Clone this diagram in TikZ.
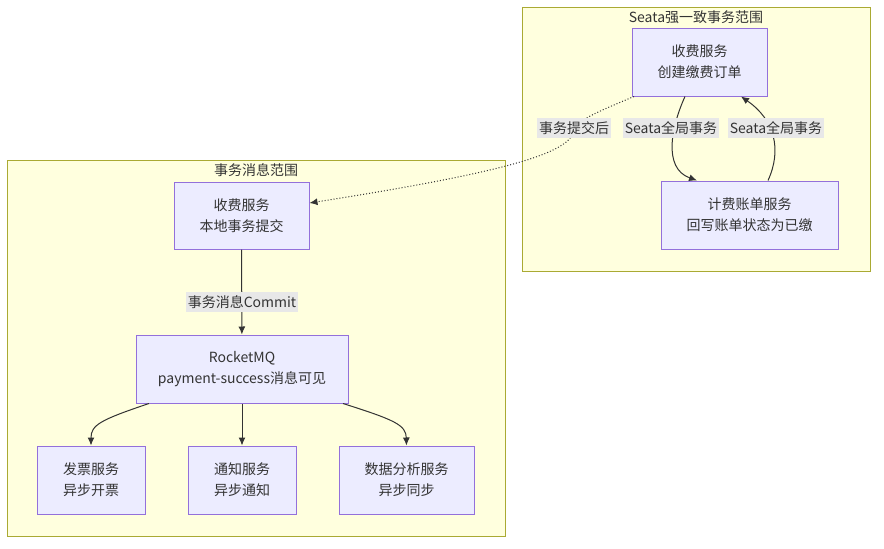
\documentclass[tikz,border=0pt]{standalone}
\usepackage{fontspec}
\setmainfont{Noto Sans CJK SC}
\usetikzlibrary{arrows.meta}

\definecolor{svcfill}{HTML}{ECECFF}
\definecolor{svcline}{HTML}{9370DB}
\definecolor{grpfill}{HTML}{FFFFDE}
\definecolor{grpline}{HTML}{AAAA33}
\definecolor{lblfill}{HTML}{E8E8E8}
\definecolor{ink}{HTML}{333333}

\tikzset{
    svc/.style={draw=svcline, fill=svcfill, line width=1pt, align=center,
                text=ink, font=\fontsize{14}{21}\selectfont, inner sep=0pt},
    grp/.style={draw=grpline, fill=grpfill, line width=1pt, inner sep=0pt},
    grptitle/.style={text=ink, font=\fontsize{14}{16}\selectfont, inner sep=1pt},
    lbl/.style={fill=lblfill, text=ink, font=\fontsize{14}{16}\selectfont,
                inner sep=2pt, minimum height=20pt},
    flow/.style={draw=ink, line width=1pt, -{Latex[length=8pt,width=7pt]}},
}

\begin{document}
\begin{tikzpicture}[x=1pt, y=-1pt]
    \useasboundingbox (0,0) rectangle (884,549);
    % 两个范围框
    \node (seata) [grp, minimum width=348, minimum height=264] at (696,139) {};
    \node (seataT) [grptitle] at (696,17) {Seata强一致事务范围};
    \node (msg) [grp, minimum width=498, minimum height=376] at (256,348) {};
    \node (msgT) [grptitle] at (256,170) {事务消息范围};

    % 服务节点
    \node (order) [svc, minimum width=135, minimum height=68] at (699.5,62)
        {收费服务\\创建缴费订单};
    \node (bill) [svc, minimum width=177, minimum height=68] at (749.5,215)
        {计费账单服务\\回写账单状态为已缴};
    \node (local) [svc, minimum width=135, minimum height=67] at (241.5,215.5)
        {收费服务\\本地事务提交};
    \node (mq) [svc, minimum width=212, minimum height=68] at (242,369)
        {RocketMQ\\payment-success消息可见};
    \node (invoice) [svc, minimum width=108, minimum height=68] at (91,480)
        {发票服务\\异步开票};
    \node (notify) [svc, minimum width=108, minimum height=68] at (242,480)
        {通知服务\\异步通知};
    \node (stats) [svc, minimum width=135, minimum height=68] at (406.5,480)
        {数据分析服务\\异步同步};

    % 连线
    \draw [flow] (order.south -| 685,0) .. controls (672,125) and (662,168) .. (bill.north -| 697,0);
    \draw [flow] (bill.north -| 768,0) .. controls (782,150) and (775,120) .. (order.south -| 741,0);
    \draw [flow, dotted] (order.south -| 634,0) .. controls (590,115) and (578,120) .. (574,132)
        .. controls (566,152) and (520,170) .. (local.east |- 0,203);
    \draw [flow] (local) -- (mq);
    \draw [flow] (mq.south -| 149,0) .. controls (100,420) and (91,425) .. (invoice.north);
    \draw [flow] (mq) -- (notify);
    \draw [flow] (mq.south -| 343,0) .. controls (395,420) and (406,425) .. (stats.north);

    % 连线标签
    \node (l1) [lbl] at (671,128) {Seata全局事务};
    \node (l2) [lbl] at (776,128) {Seata全局事务};
    \node (l3) [lbl] at (574,128) {事务提交后};
    \node (l4) [lbl] at (242,302) {事务消息Commit};
\end{tikzpicture}
\end{document}
